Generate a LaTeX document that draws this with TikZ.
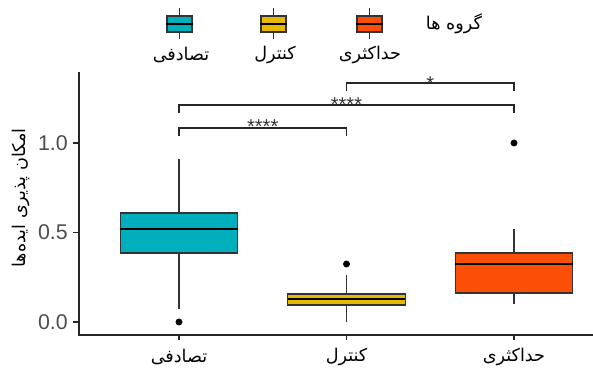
\documentclass[tikz,border=0pt]{standalone}
\usepackage{fontspec}
\setmainfont{Liberation Sans}
\newfontfamily\farsi[Script=Arabic]{DejaVu Sans}
\TeXXeTstate=1
\usetikzlibrary{positioning}
\definecolor{tasadofi}{HTML}{00AFBB}
\definecolor{kontrol}{HTML}{E7B800}
\definecolor{hadaksari}{HTML}{FC4E07}
\definecolor{ticktext}{HTML}{4D4D4D}
\newcommand{\gbox}[7]{%
  \draw[boxline] (#1,#3) -- (#1,#4) (#1,#6) -- (#1,#7);
  \draw[boxline, fill=#2] (#1-.35,#4) rectangle (#1+.35,#6);
  \draw[medianline] (#1-.35,#5) -- (#1+.35,#5);}
\newcommand{\fa}[1]{{\farsi\beginR #1\endR}}
\begin{document}
\begin{tikzpicture}[x=.75pt, y=-.75pt,
  axisline/.style={line width=.9pt, black!85},
  boxline/.style={line width=.9pt, black!80},
  medianline/.style={line width=1.8pt, black},
  outlier/.style={circle, fill=black, inner sep=0pt, minimum size=5.2pt},
  bracket/.style={line width=.9pt, black!85},
  stars/.style={anchor=base, inner sep=0pt, black!80, font=\fontsize{15}{15}\selectfont},
  ticklab/.style={anchor=east, inner sep=0pt, ticktext, font=\fontsize{16}{18}\selectfont},
  farsitext/.style={inner sep=0pt, font=\fontsize{13.2}{15}\selectfont},
  keybox/.style={draw=black!80, line width=.8pt, minimum width=18.75pt, minimum height=12pt, inner sep=0pt}]
\useasboundingbox (0,0) rectangle (593,374);
%Achsen
\draw[axisline] (79,72) -- (79,335) -- (593,335);
\foreach \v/\lab in {0/0.0, 0.5/0.5, 1/1.0}{
  \pgfmathsetmacro{\yy}{322-179*\v}
  \draw[axisline] (73,\yy) -- (79,\yy);
  \node[ticklab] at (68,\yy) {\lab};
}
\foreach \xx in {179,346.5,514}
  \draw[axisline] (\xx,335) -- (\xx,340);
\node[farsitext, rotate=90] (ytitle) at (21,198) {\fa{امکان پذیری ایده^^^^200cها}};
\node[farsitext] (x1) at (179,357) {\fa{تصادفی}};
\node[farsitext] (x2) at (346.5,357) {\fa{کنترل}};
\node[farsitext] (x3) at (514,357) {\fa{حداکثری}};
%Boxen
\begin{scope}[shift={(11.5,322)}, xscale=167.5, yscale=-179]
\gbox{1}{tasadofi}{0.073}{0.385}{0.52}{0.609}{0.91}
\gbox{2}{kontrol}{0}{0.095}{0.128}{0.156}{0.263}
\gbox{3}{hadaksari}{0.1}{0.162}{0.324}{0.385}{0.52}
\node[outlier] (o1) at (1,0) {};
\node[outlier] (o2) at (2,0.324) {};
\node[outlier] (o3) at (3,1) {};
%Vergleiche
\draw[bracket] (1,1.039) -- (1,1.084) -- (2,1.084) -- (2,1.039);
\draw[bracket] (1,1.168) -- (1,1.212) -- (3,1.212) -- (3,1.168);
\draw[bracket] (2,1.291) -- (2,1.335) -- (3,1.335) -- (3,1.291);
\end{scope}
\node[stars] (s1) at (262.75,134) {****};
\node[stars] (s2) at (346.5,112) {****};
\node[stars] (s3) at (430.25,90.5) {*};
%Legende
\foreach \n/\xx/\col in {1/179.5/tasadofi, 2/273.5/kontrol, 3/369.5/hadaksari}{
  \node[keybox, fill=\col] (k\n) at (\xx,24) {};
  \draw[boxline] (k\n.north) -- ++(0,-7);
  \draw[boxline] (k\n.south) -- ++(0,6);
  \draw[medianline, line width=1.4pt] (k\n.west) -- (k\n.east);
}
\node[farsitext] (l1) at (181,55) {\fa{تصادفی}};
\node[farsitext] (l2) at (275,55) {\fa{کنترل}};
\node[farsitext] (l3) at (370,55) {\fa{حداکثری}};
\node[farsitext] (ltitle) at (454,24) {\fa{گروه ها}};
\end{tikzpicture}
\end{document}
